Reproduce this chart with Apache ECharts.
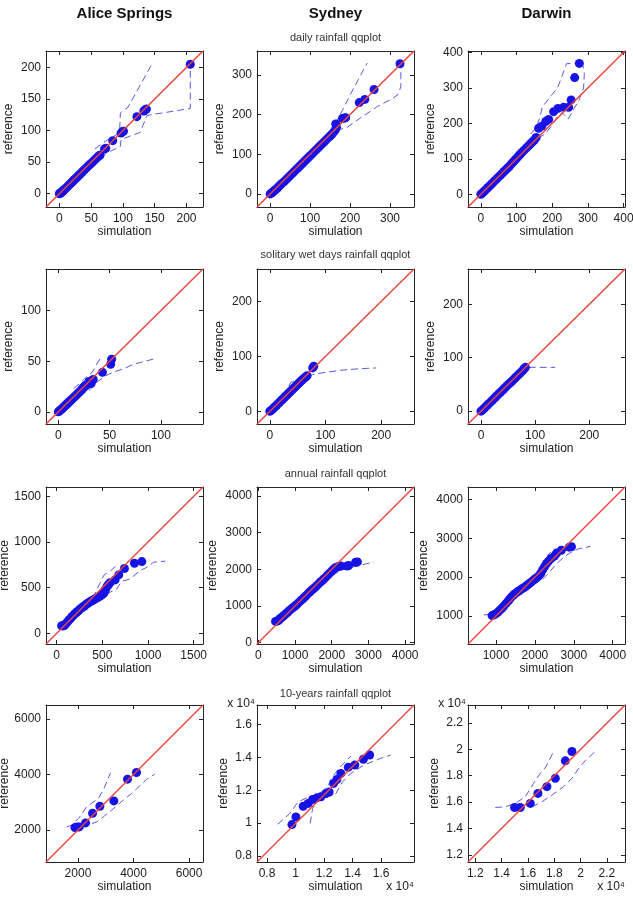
<!DOCTYPE html>
<html>
<head>
<meta charset="utf-8">
<script src="https://cdn.jsdelivr.net/npm/echarts@6/dist/echarts.min.js"></script>
<style>
  html, body { margin: 0; padding: 0; background: #fff; }
  #chart { width: 633px; height: 917px; }
</style>
</head>
<body>
<div id="chart"></div>
<script>
// ---- column / row titles ----
const stations = ['Alice Springs', 'Sydney', 'Darwin'];
const rowTitles = ['daily rainfall qqplot', 'solitary wet days rainfall qqplot', 'annual rainfall qqplot', '10-years rainfall qqplot'];

// ---- axis ranges [xmin, xmax, ymin, ymax] and tick values ----
const aliceDailyRange = [-21, 226, -21, 226];
const sydneyDailyRange = [-33, 360, -33, 360];
const darwinDailyRange = [-36, 404, -36, 404];
const aliceSolRange = [-12, 141, -12, 141];
const sydneySolRange = [-23, 259, -23, 259];
const darwinSolRange = [-24, 266, -24, 266];
const aliceAnnRange = [-116, 1602, -116, 1602];
const sydneyAnnRange = [-35, 4240, -35, 4240];
const darwinAnnRange = [280, 4316, 280, 4316];
const alice10Range = [850, 6500, 850, 6500];
const sydney10Range = [7300, 18310, 7630, 17200];
const darwin10Range = [11450, 23370, 11450, 23370];

const aliceDailyTicks = [0, 50, 100, 150, 200];
const sydneyDailyTicks = [0, 100, 200, 300];
const darwinDailyTicks = [0, 100, 200, 300, 400];
const aliceSolTicks = [0, 50, 100];
const sydneySolTicks = [0, 100, 200];
const darwinSolTicks = [0, 100, 200];
const aliceAnnTicks = [0, 500, 1000, 1500];
const sydneyAnnTicks = [0, 1000, 2000, 3000, 4000];
const darwinAnnTicks = [1000, 2000, 3000, 4000];
const alice10Ticks = [2000, 4000, 6000];
const sydney10Ticks = [8000, 10000, 12000, 14000, 16000];
const darwin10Ticks = [12000, 14000, 16000, 18000, 20000, 22000];

// ---- quantile points [simulation, reference] ----
const aliceDailyPts = [[0,0],[1,0.5],[2,1.2],[3,2],[4,3],[5,3.8],[6,4.8],[7,5.8],[8,6.8],[10,8.5],[12,10.5],[14,12.5],[16,14.5],[18,16.5],[20,18.5],[22,20.5],[24,22.5],[26,24.5],[28,26.5],[30,28.5],[32,30.5],[34,32.5],[36,34.5],[38,36.5],[40,38.5],[42,40.5],[44,42.5],[46,44.5],[48,46],[50,48],[52,50],[54,52],[56,54],[58,56],[60,58],[62,60],[64,61],[71,71],[73,72],[84,84],[97,96],[99,98],[101,99],[122,122],[133,131],[135,133],[137,134],[206,205]];
const aliceDailyUpper = [[56,71],[68,80],[80,88],[93,95],[95,103],[96,128],[108,137],[146,206]];
const aliceDailyLower = [[64,59],[80,67],[96,75],[97,86],[127,97],[138,124],[206,135],[206,203]];

const sydneyDailyPts = [[0,0],[3,2],[6,4],[10,8],[14,11],[18,15],[22,19],[26,23],[30,27],[35,31],[40,36],[45,41],[50,46],[55,51],[60,56],[65,61],[70,66],[75,71],[80,76],[85,81],[90,86],[95,91],[100,96],[105,101],[110,106],[115,111],[120,116],[125,121],[130,126],[135,131],[140,136],[145,141],[150,146],[155,151],[160,157],[164,163],[166,168],[164,176],[181,190],[186,191],[189,192],[223,230],[237,238],[260,263],[325,328]];
const sydneyDailyUpper = [[160,178],[170,190],[181,211],[202,253],[243,330]];
const sydneyDailyLower = [[165,160],[192,167],[218,186],[268,220],[302,238],[320,250],[327,270],[327,320]];

const darwinDailyPts = [[0,0],[4,3],[8,7],[12,11],[16,15],[20,19],[25,24],[30,29],[35,34],[40,39],[45,44],[50,49],[55,54],[60,59],[65,64],[70,69],[75,74],[80,79],[85,85],[90,90],[95,96],[100,101],[105,107],[110,112],[115,118],[120,123],[125,128],[130,133],[135,138],[140,143],[145,148],[150,153],[155,160],[162,186],[171,192],[182,205],[190,211],[204,233],[216,242],[232,245],[246,245],[253,266],[263,329],[276,369]];
const darwinDailyUpper = [[140,170],[155,188],[165,215],[172,245],[192,272],[215,300],[230,340],[240,368],[265,370],[280,368]];
const darwinDailyLower = [[160,158],[180,170],[200,195],[215,220],[228,230],[245,212],[260,240],[275,265],[288,300],[290,340],[285,368]];

const aliceSolPts = [[0,0],[1,0.8],[2,1.7],[3,2.6],[4,3.5],[5,4.5],[6,5.4],[7,6.4],[8,7.3],[9,8.3],[10,9.2],[11,10.2],[12,11.2],[13,12.1],[14,13],[15,14],[16,15],[17,16],[18,17],[19,18],[20,19],[21,20],[22,21],[23,22],[24,23.5],[25,24.5],[26,25.5],[27,26],[28,27],[30,30],[32,28],[33,31],[34,32],[43,39],[51,47],[52,52]];
const aliceSolUpper = [[15,23],[22,29],[27,34],[33,39],[38,48],[41,53]];
const aliceSolLower = [[20,21],[26,19],[31,22],[36,28],[45,35],[53,39],[65,43],[73,47],[85,50],[96,53]];

const sydneySolPts = [[0,0],[2.5,2],[5,4],[7.5,6.5],[10,9],[12.5,11.5],[15,14],[17.5,16.5],[20,19],[22.5,21.5],[25,24],[27.5,26.5],[30,29],[32.5,31.5],[35,34],[37.5,36.5],[40,39],[42.5,41.5],[45,44],[47.5,46.5],[50,49],[52.5,51.5],[55,54],[57.5,56.5],[60,59],[62.5,61],[65,63],[67,65],[77,79],[79,82]];
const sydneySolUpper = [[34,46],[38,53],[48,56],[60,64],[70,72]];
const sydneySolLower = [[40,35],[50,44],[60,55],[70,63],[77,67],[100,71],[130,75],[160,77.5],[191,79]];

const darwinSolPts = [[0,0],[3,2.5],[6,5.5],[9,8.5],[12,11.5],[15,14.5],[18,17.5],[21,20.5],[24,23.5],[27,26.5],[30,29.5],[33,32.5],[36,35.5],[39,38.5],[42,41.5],[45,44.5],[48,47.5],[51,50.5],[54,53],[57,56],[60,59],[63,62],[66,65],[69,68],[72,71],[75,74],[78,77],[80,80],[82,82]];
const darwinSolUpper = [[55,62],[62,70],[70,77],[78,82],[100,82],[137,82]];
const darwinSolLower = [[58,55],[66,60],[75,70],[80,78]];

const aliceAnnPts = [[55,84],[70,82],[84,86],[95,100],[110,115],[125,135],[140,150],[155,165],[170,185],[185,200],[200,215],[215,228],[230,240],[245,255],[260,268],[275,280],[290,292],[305,300],[320,315],[335,325],[350,335],[365,345],[380,355],[395,362],[410,370],[425,378],[440,388],[455,395],[470,405],[485,415],[500,425],[512,435],[520,450],[530,470],[540,490],[555,520],[570,535],[585,555],[640,585],[680,640],[742,710],[852,768],[933,786]];
const aliceAnnUpper = [[380,400],[420,430],[440,480],[480,560],[520,640],[585,680],[660,745]];
const aliceAnnLower = [[550,420],[585,450],[658,486],[713,570],[805,596],[914,688],[988,724],[1061,779],[1189,790]];

const sydneyAnnPts = [[470,580],[520,590],[560,620],[600,660],[650,700],[700,740],[750,790],[800,830],[850,880],[900,920],[950,960],[1000,1000],[1050,1040],[1100,1090],[1150,1140],[1200,1180],[1250,1230],[1300,1280],[1350,1330],[1400,1380],[1450,1430],[1500,1470],[1550,1510],[1600,1560],[1650,1610],[1700,1660],[1750,1700],[1800,1750],[1850,1800],[1900,1850],[1950,1900],[2000,1950],[2050,2000],[2100,2040],[2150,2060],[2200,2080],[2250,2090],[2420,2090],[2460,2100],[2650,2190],[2700,2200]];
const sydneyAnnUpper = [[1900,1950],[2000,2060],[2100,2100],[2200,2130]];
const sydneyAnnLower = [[2000,1850],[2100,1880],[2200,1950],[2300,2000],[2450,2040],[2700,2090],[2950,2150],[3150,2200]];

const darwinAnnPts = [[900,1010],[950,1030],[1000,1060],[1050,1100],[1100,1150],[1150,1200],[1200,1255],[1250,1310],[1300,1370],[1350,1430],[1400,1490],[1450,1540],[1500,1580],[1550,1620],[1600,1650],[1650,1690],[1700,1720],[1750,1750],[1800,1790],[1850,1830],[1900,1870],[1950,1910],[2000,1950],[2050,1985],[2100,2030],[2150,2100],[2200,2190],[2250,2270],[2300,2350],[2350,2410],[2420,2480],[2500,2540],[2560,2620],[2680,2690],[2880,2770],[2940,2780]];
const darwinAnnUpper = [[690,1030],[860,1040],[1000,1090],[1200,1290],[1400,1520],[1600,1690],[1800,1830],[2000,1990],[2150,2200],[2330,2560],[2480,2730]];
const darwinAnnLower = [[2200,1950],[2350,2100],[2480,2255],[2600,2380],[2750,2520],[2900,2620],[3130,2730],[3430,2790]];

const alice10Pts = [[1890,2088],[1975,2112],[2047,2112],[2274,2256],[2526,2604],[2789,2857],[3292,3049],[3783,3831],[4106,4071]];
const alice10Upper = [[1592,2112],[1772,2172],[2047,2449],[2310,2833],[2729,3134],[2909,3434],[3172,4059]];
const alice10Lower = [[2130,2112],[2330,2180],[2670,2290],[2909,2473],[3208,2713],[3627,3073],[3926,3314],[4465,3819],[4764,4011]];

const sydney10Pts = [[9750,9910],[10030,10380],[10540,11030],[10890,11200],[11200,11440],[11500,11540],[11780,11600],[12130,11800],[12360,11900],[12670,12420],[12900,12660],[13180,13030],[13700,13400],[14160,13540],[14760,13890],[15200,14150]];
const sydney10Upper = [[8750,9930],[9560,10550],[10190,11300],[10850,11560],[11550,11700],[12250,12220],[12600,12830],[13060,13340],[13880,14090]];
const sydney10Lower = [[11030,9980],[11200,10890],[11550,11400],[12130,11560],[12830,11800],[13300,12520],[13880,13030],[14800,13540],[15980,13950],[16680,14150]];

const darwin10Pts = [[14990,15590],[15420,15590],[16180,15900],[16760,16660],[17440,17170],[18080,17800],[18840,19130],[19340,19840]];
const darwin10Upper = [[13520,15590],[14280,15640],[15040,15900],[15800,16400],[16430,17420],[16940,18180],[17370,18690],[17950,19840]];
const darwin10Lower = [[16300,15640],[17060,16020],[17820,16530],[18710,17170],[19340,17800],[19850,18560],[20350,19150],[21110,19840]];

// ---- panel table (row-major) ----
const panels = [
  { range: aliceDailyRange, ticks: aliceDailyTicks, pts: aliceDailyPts, up: aliceDailyUpper, lo: aliceDailyLower },
  { range: sydneyDailyRange, ticks: sydneyDailyTicks, pts: sydneyDailyPts, up: sydneyDailyUpper, lo: sydneyDailyLower },
  { range: darwinDailyRange, ticks: darwinDailyTicks, pts: darwinDailyPts, up: darwinDailyUpper, lo: darwinDailyLower },
  { range: aliceSolRange, ticks: aliceSolTicks, pts: aliceSolPts, up: aliceSolUpper, lo: aliceSolLower },
  { range: sydneySolRange, ticks: sydneySolTicks, pts: sydneySolPts, up: sydneySolUpper, lo: sydneySolLower },
  { range: darwinSolRange, ticks: darwinSolTicks, pts: darwinSolPts, up: darwinSolUpper, lo: darwinSolLower },
  { range: aliceAnnRange, ticks: aliceAnnTicks, pts: aliceAnnPts, up: aliceAnnUpper, lo: aliceAnnLower },
  { range: sydneyAnnRange, ticks: sydneyAnnTicks, pts: sydneyAnnPts, up: sydneyAnnUpper, lo: sydneyAnnLower },
  { range: darwinAnnRange, ticks: darwinAnnTicks, pts: darwinAnnPts, up: darwinAnnUpper, lo: darwinAnnLower },
  { range: alice10Range, ticks: alice10Ticks, pts: alice10Pts, up: alice10Upper, lo: alice10Lower },
  { range: sydney10Range, ticks: sydney10Ticks, pts: sydney10Pts, up: sydney10Upper, lo: sydney10Lower, e4: true },
  { range: darwin10Range, ticks: darwin10Ticks, pts: darwin10Pts, up: darwin10Upper, lo: darwin10Lower, e4: true }
];

// layout
const FONT = '"Liberation Sans", Arial, Helvetica, sans-serif';
const colLeft = [46, 257, 468];
const colW = 157;
const rowTop = [51, 269, 487, 705];
const rowH = [156, 155, 157, 157];
const AXIS_COLOR = '#262626';
const DOT_COLOR = '#1712e6';
const BAND_COLOR = '#5a5ae0';
const REF_COLOR = '#e8463f';

const grids = [], xAxes = [], yAxes = [], series = [];

function labelFmt(e4) {
  return function (v) {
    return e4 ? String(parseFloat((v / 1e4).toFixed(2))) : String(v);
  };
}

// keep the y name clear of the tick labels (and inside the page for column 1)
function yNameGap(p, c) {
  if (p.e4) return 27;
  const w = Math.max(...p.ticks.map(t => String(t).length));
  if (w >= 4) return c === 0 ? 33 : 38;
  return 31;
}

panels.forEach((p, i) => {
  const r = Math.floor(i / 3), c = i % 3;
  const [x0, x1, y0, y1] = p.range;
  grids.push({ left: colLeft[c], top: rowTop[r], width: colW, height: rowH[r], outerBoundsMode: 'none' });

  const line = { show: true, onZero: false, lineStyle: { color: AXIS_COLOR, width: 1 } };
  const tick = { show: true, inside: true, length: 4, customValues: p.ticks, lineStyle: { color: AXIS_COLOR, width: 1 } };
  const lbl = { customValues: p.ticks, formatter: labelFmt(p.e4), color: '#222', fontSize: 12, fontFamily: FONT };

  xAxes.push({
    type: 'value', gridIndex: i, min: x0, max: x1, position: 'bottom',
    axisLine: line, axisTick: tick, splitLine: { show: false },
    axisLabel: Object.assign({ margin: 6 }, lbl),
    name: 'simulation', nameLocation: 'middle', nameGap: 18,
    nameTextStyle: { color: '#222', fontSize: 12, fontFamily: FONT }
  });
  xAxes.push({
    type: 'value', gridIndex: i, min: x0, max: x1, position: 'top',
    axisLine: line, axisTick: tick, splitLine: { show: false }, axisLabel: { show: false }
  });
  yAxes.push({
    type: 'value', gridIndex: i, min: y0, max: y1, position: 'left',
    axisLine: line, axisTick: tick, splitLine: { show: false },
    axisLabel: Object.assign({ margin: 5 }, lbl),
    name: 'reference', nameLocation: 'middle', nameGap: yNameGap(p, c),
    nameTextStyle: { color: '#222', fontSize: 12, fontFamily: FONT }
  });
  yAxes.push({
    type: 'value', gridIndex: i, min: y0, max: y1, position: 'right',
    axisLine: line, axisTick: tick, splitLine: { show: false }, axisLabel: { show: false }
  });

  const xi = 2 * i, yi = 2 * i;
  [p.up, p.lo].forEach(band => {
    series.push({
      type: 'line', xAxisIndex: xi, yAxisIndex: yi, data: band, symbol: 'none',
      lineStyle: { color: BAND_COLOR, width: 1, type: [7, 4] }, z: 2, silent: true, animation: false
    });
  });
  series.push({
    type: 'scatter', xAxisIndex: xi, yAxisIndex: yi, data: p.pts, symbolSize: 9,
    itemStyle: { color: DOT_COLOR, opacity: 1 }, z: 3, silent: true, animation: false
  });
  // y = x reference line spanning the axis box
  series.push({
    type: 'line', xAxisIndex: xi, yAxisIndex: yi, data: [[x0, y0], [x1, y1]], symbol: 'none',
    lineStyle: { color: REF_COLOR, width: 1.5, type: 'solid' }, z: 4, silent: true, animation: false
  });
});

// texts: station names, row titles, exponent markers
const graphics = [];
stations.forEach((s, c) => {
  graphics.push({ type: 'text', x: colLeft[c] + colW / 2, y: 14,
    style: { text: s, align: 'center', verticalAlign: 'middle', font: 'bold 15px ' + FONT, fill: '#111' } });
});
const rowTitleY = [38, 255, 474, 694];
rowTitles.forEach((t, r) => {
  graphics.push({ type: 'text', x: colLeft[1] + colW / 2, y: rowTitleY[r],
    style: { text: t, align: 'center', verticalAlign: 'middle', font: '11px ' + FONT, fill: '#333' } });
});
[1, 2].forEach(c => {
  graphics.push({ type: 'text', x: colLeft[c] - 2, y: rowTop[3] - 1,
    style: { text: 'x 10⁴', align: 'right', verticalAlign: 'middle', font: '12px ' + FONT, fill: '#222' } });
  graphics.push({ type: 'text', x: colLeft[c] + colW, y: rowTop[3] + rowH[3] + 25,
    style: { text: 'x 10⁴', align: 'right', verticalAlign: 'middle', font: '12px ' + FONT, fill: '#222' } });
});

const chart = echarts.init(document.getElementById('chart'), null, { renderer: 'canvas' });
chart.setOption({
  backgroundColor: '#ffffff',
  animation: false,
  grid: grids,
  xAxis: xAxes,
  yAxis: yAxes,
  series: series,
  graphic: graphics
});
</script>
</body>
</html>
